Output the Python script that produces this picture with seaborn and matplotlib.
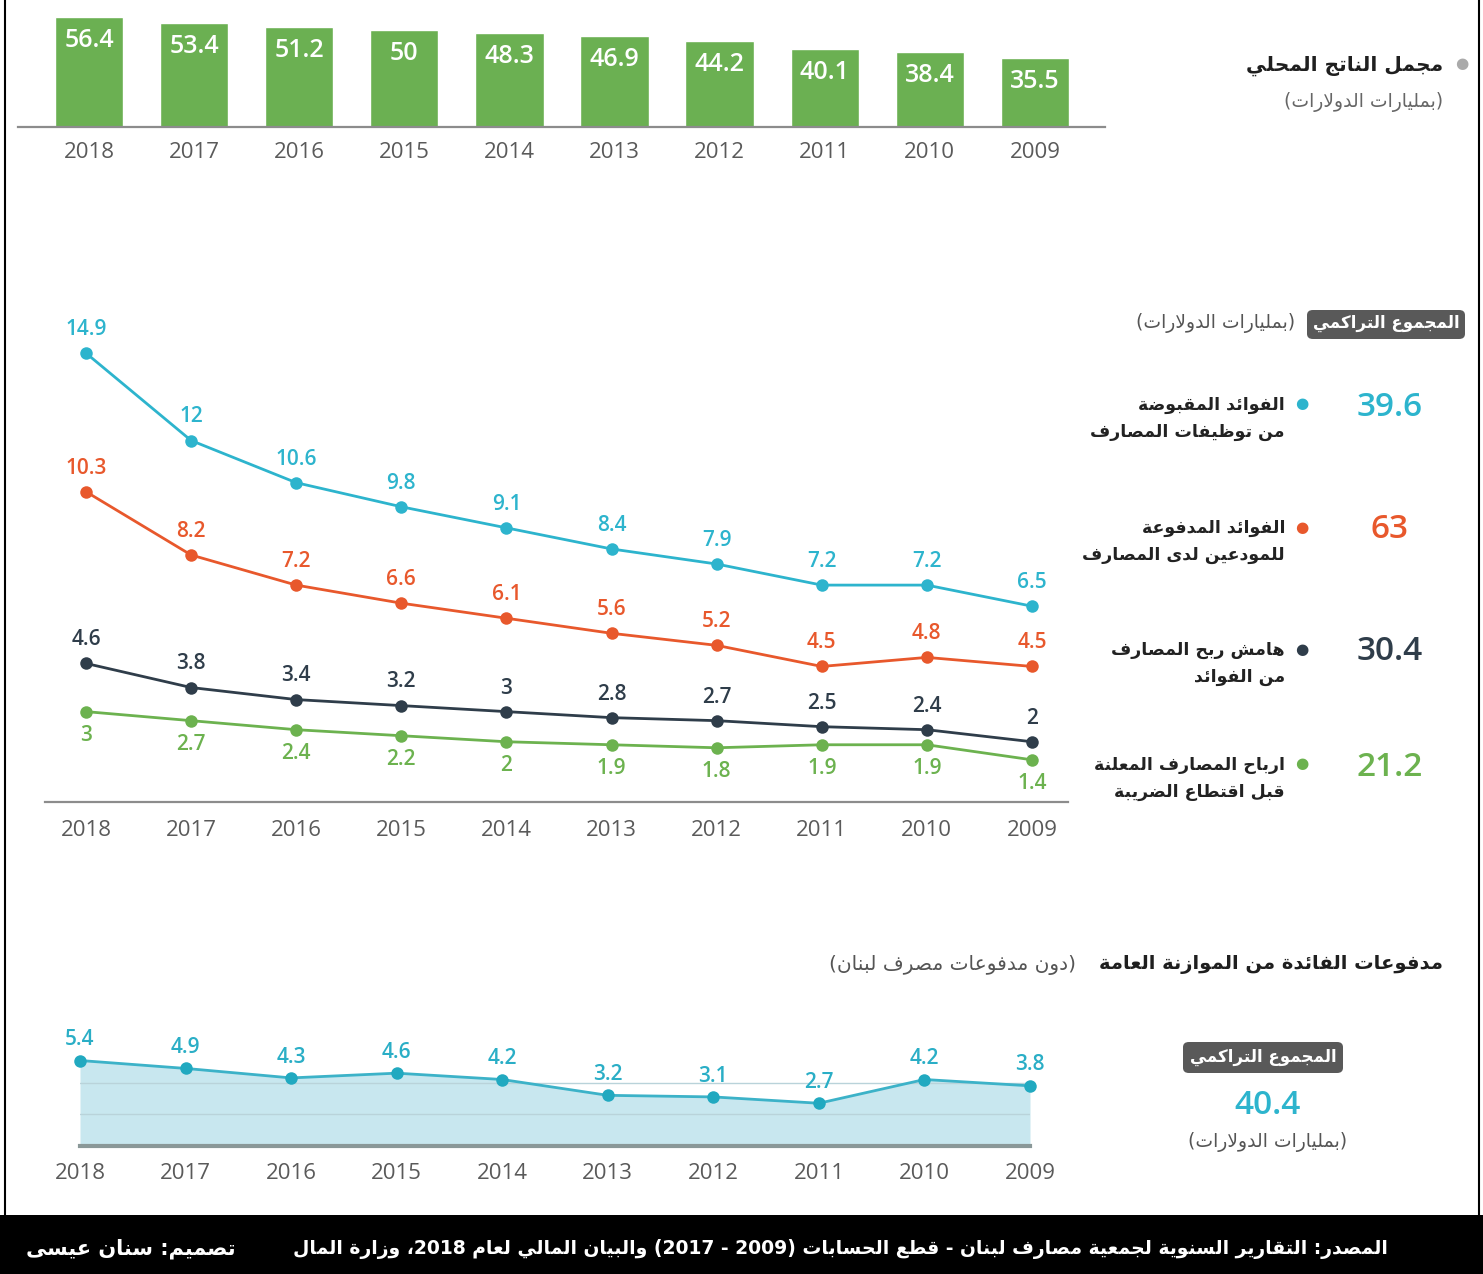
import re
import matplotlib
matplotlib.use("Agg")
import matplotlib.pyplot as plt
from matplotlib.patches import FancyBboxPatch, Rectangle
from matplotlib.lines import Line2D
import seaborn as sns
import pandas as pd
import numpy as np

# ---- data (left = 2018 ... right = 2009) ----
years = ['2018', '2017', '2016', '2015', '2014', '2013', '2012', '2011', '2010', '2009']
gdp = [56.4, 53.4, 51.2, 50, 48.3, 46.9, 44.2, 40.1, 38.4, 35.5]
interest_received = [14.9, 12, 10.6, 9.8, 9.1, 8.4, 7.9, 7.2, 7.2, 6.5]
interest_paid = [10.3, 8.2, 7.2, 6.6, 6.1, 5.6, 5.2, 4.5, 4.8, 4.5]
interest_margin = [4.6, 3.8, 3.4, 3.2, 3, 2.8, 2.7, 2.5, 2.4, 2]
bank_profits = [3, 2.7, 2.4, 2.2, 2, 1.9, 1.8, 1.9, 1.9, 1.4]
budget_interest = [5.4, 4.9, 4.3, 4.6, 4.2, 3.2, 3.1, 2.7, 4.2, 3.8]

series_names = [("الفوائد المقبوضة", "من توظيفات المصارف"),
                ("الفوائد المدفوعة", "للمودعين لدى المصارف"),
                ("هامش ربح المصارف", "من الفوائد"),
                ("ارباح المصارف المعلنة", "قبل اقتطاع الضريبة")]
series_totals = ['39.6', '63', '30.4', '21.2']
budget_total = '40.4'

gdp_title = "مجمل الناتج المحلي"
unit_text = "(بمليارات الدولارات)"
cum_text = "المجموع التراكمي"
budget_title = "مدفوعات الفائدة من الموازنة العامة"
budget_sub = "(دون مدفوعات مصرف لبنان)"
source_text = "المصدر: التقارير السنوية لجمعية مصارف لبنان - قطع الحسابات (2009 - 2017) والبيان المالي لعام 2018، وزارة المال"
credit_text = "تصميم: سنان عيسى"

# ---- colours ----
GREEN_BAR = "#6bb052"
CYAN = "#2db4cd"
ORANGE = "#e8582c"
DARK = "#2f3d4a"
GREEN = "#6cb24f"
YEAR_GREY = "#5a5a5a"

# ---- tiny arabic shaping + bidi (matplotlib has none) ----
AR_FORMS = {
    '\u0621': ('\uFE80', None, None, None),
    '\u0622': ('\uFE81', '\uFE82', None, None),
    '\u0623': ('\uFE83', '\uFE84', None, None),
    '\u0624': ('\uFE85', '\uFE86', None, None),
    '\u0625': ('\uFE87', '\uFE88', None, None),
    '\u0626': ('\uFE89', '\uFE8A', '\uFE8B', '\uFE8C'),
    '\u0627': ('\uFE8D', '\uFE8E', None, None),
    '\u0628': ('\uFE8F', '\uFE90', '\uFE91', '\uFE92'),
    '\u0629': ('\uFE93', '\uFE94', None, None),
    '\u062A': ('\uFE95', '\uFE96', '\uFE97', '\uFE98'),
    '\u062B': ('\uFE99', '\uFE9A', '\uFE9B', '\uFE9C'),
    '\u062C': ('\uFE9D', '\uFE9E', '\uFE9F', '\uFEA0'),
    '\u062D': ('\uFEA1', '\uFEA2', '\uFEA3', '\uFEA4'),
    '\u062E': ('\uFEA5', '\uFEA6', '\uFEA7', '\uFEA8'),
    '\u062F': ('\uFEA9', '\uFEAA', None, None),
    '\u0630': ('\uFEAB', '\uFEAC', None, None),
    '\u0631': ('\uFEAD', '\uFEAE', None, None),
    '\u0632': ('\uFEAF', '\uFEB0', None, None),
    '\u0633': ('\uFEB1', '\uFEB2', '\uFEB3', '\uFEB4'),
    '\u0634': ('\uFEB5', '\uFEB6', '\uFEB7', '\uFEB8'),
    '\u0635': ('\uFEB9', '\uFEBA', '\uFEBB', '\uFEBC'),
    '\u0636': ('\uFEBD', '\uFEBE', '\uFEBF', '\uFEC0'),
    '\u0637': ('\uFEC1', '\uFEC2', '\uFEC3', '\uFEC4'),
    '\u0638': ('\uFEC5', '\uFEC6', '\uFEC7', '\uFEC8'),
    '\u0639': ('\uFEC9', '\uFECA', '\uFECB', '\uFECC'),
    '\u063A': ('\uFECD', '\uFECE', '\uFECF', '\uFED0'),
    '\u0641': ('\uFED1', '\uFED2', '\uFED3', '\uFED4'),
    '\u0642': ('\uFED5', '\uFED6', '\uFED7', '\uFED8'),
    '\u0643': ('\uFED9', '\uFEDA', '\uFEDB', '\uFEDC'),
    '\u0644': ('\uFEDD', '\uFEDE', '\uFEDF', '\uFEE0'),
    '\u0645': ('\uFEE1', '\uFEE2', '\uFEE3', '\uFEE4'),
    '\u0646': ('\uFEE5', '\uFEE6', '\uFEE7', '\uFEE8'),
    '\u0647': ('\uFEE9', '\uFEEA', '\uFEEB', '\uFEEC'),
    '\u0648': ('\uFEED', '\uFEEE', None, None),
    '\u0649': ('\uFEEF', '\uFEF0', None, None),
    '\u064A': ('\uFEF1', '\uFEF2', '\uFEF3', '\uFEF4'),
}
LAM_ALEF = {'\u0622': ('\uFEF5', '\uFEF6'), '\u0623': ('\uFEF7', '\uFEF8'),
            '\u0625': ('\uFEF9', '\uFEFA'), '\u0627': ('\uFEFB', '\uFEFC')}
MIRROR = str.maketrans('()', ')(')


def shape(text):
    res = []
    prev_joins = False
    i = 0
    n = len(text)
    while i < n:
        c = text[i]
        if c not in AR_FORMS:
            res.append(c)
            prev_joins = False
            i += 1
            continue
        if c == '\u0644' and i + 1 < n and text[i + 1] in LAM_ALEF:
            iso, fin = LAM_ALEF[text[i + 1]]
            res.append(fin if prev_joins else iso)
            prev_joins = False
            i += 2
            continue
        f = AR_FORMS[c]
        nxt = text[i + 1] if i + 1 < n else None
        can_next = f[2] is not None and nxt in AR_FORMS and AR_FORMS[nxt][1] is not None
        if prev_joins and can_next:
            g = f[3]
        elif prev_joins:
            g = f[1]
        elif can_next:
            g = f[2]
        else:
            g = f[0]
        res.append(g)
        prev_joins = can_next
        i += 1
    return ''.join(res)


def ar(text):
    s = shape(text)
    runs = re.findall(r'[0-9]+(?:\.[0-9]+)*|[^0-9]+', s)
    out = []
    for r in reversed(runs):
        if r[0].isdigit():
            out.append(r)
        else:
            out.append(r[::-1].translate(MIRROR))
    return ''.join(out)


# ---- figure ----
sns.set_theme(style="white")
plt.rcParams['font.family'] = ['Open Sans', 'DejaVu Sans']
AR_FONT = ['DejaVu Sans']

W, H = 1483, 1274
fig = plt.figure(figsize=(W / 100, H / 100), dpi=100)
fig.patch.set_facecolor('white')


def px_axes(x0, y_top, x1, y_bot):
    return fig.add_axes([x0 / W, 1 - y_bot / H, (x1 - x0) / W, (y_bot - y_top) / H])


def ftext(x, y, s, **kw):
    return fig.text(x / W, 1 - y / H, s, **kw)


def year_axis(ax, pad):
    ax.set_xticks(range(len(years)))
    ax.set_xticklabels(years)
    ax.tick_params(axis='x', length=0, pad=pad, labelsize=16, labelcolor=YEAR_GREY)
    ax.set_yticks([])
    ax.set_xlabel('')
    ax.set_ylabel('')
    for sp in ['top', 'right', 'left']:
        ax.spines[sp].set_visible(False)


# top: GDP bars
ax1 = px_axes(18, 10, 1105, 127)
sns.barplot(x=years, y=gdp, order=years, color=GREEN_BAR, saturation=1, width=0.65, ax=ax1)
ax1.set_xlim(-0.676, 9.667)
ax1.set_ylim(0, 60)
year_axis(ax1, 11)
ax1.spines['bottom'].set_color('#8c8c8c')
ax1.spines['bottom'].set_linewidth(1.6)
for i, v in enumerate(gdp):
    ax1.annotate(f"{v:g}", xy=(i, v), xytext=(0, -17), textcoords='offset points',
                 ha='center', va='center', color='white', fontsize=18, fontweight='semibold')

ftext(1462, 64, '\u25CF', ha='center', va='center', color='#aaaaaa', fontsize=11)
ftext(1443, 66, ar(gdp_title), ha='right', va='center', color='#1f1f1f', fontsize=14.5,
      fontweight='bold', family=AR_FONT)
ftext(1443, 102, ar(unit_text), ha='right', va='center', color='#666666', fontsize=13.5, family=AR_FONT)

# middle: bank interest lines
ax2 = px_axes(45, 320, 1068, 802)
idx = np.arange(len(years))
line_series = [interest_received, interest_paid, interest_margin, bank_profits]
line_colors = [CYAN, ORANGE, DARK, GREEN]
label_side = [1, 1, 1, -1]
for vals, col, side in zip(line_series, line_colors, label_side):
    sns.lineplot(x=idx, y=vals, color=col, marker='o', markersize=9, markeredgewidth=0,
                 linewidth=2, ax=ax2, clip_on=False)
    for i, v in enumerate(vals):
        ax2.annotate(f"{v:g}", xy=(i, v), xytext=(0, 17 * side), textcoords='offset points',
                     ha='center', va='center', color=col, fontsize=15, fontweight='semibold')
ax2.set_xlim(-0.39, 9.343)
ax2.set_ylim(0, 16)
year_axis(ax2, 13)
ax2.spines['bottom'].set_color('#8c8c8c')
ax2.spines['bottom'].set_linewidth(1.6)

box = FancyBboxPatch((1307 / W, 1 - 339 / H), 158 / W, 29 / H,
                     boxstyle="round,pad=0,rounding_size=0.004", transform=fig.transFigure,
                     facecolor='#595959', edgecolor='none')
fig.patches.append(box)
ftext(1386, 323, ar(cum_text), ha='center', va='center', color='white', fontsize=12,
      fontweight='bold', family=AR_FONT)
ftext(1295, 323, ar(unit_text), ha='right', va='center', color='#555555', fontsize=13.5, family=AR_FONT)

entry_y = [405, 528, 650, 765]
for (l1, l2), tot, col, y in zip(series_names, series_totals, line_colors, entry_y):
    ftext(1302, y, '\u25CF', ha='center', va='center', color=col, fontsize=11)
    ftext(1285, y, ar(l1), ha='right', va='center', color='#222222', fontsize=12.5,
          fontweight='bold', family=AR_FONT)
    ftext(1285, y + 27, ar(l2), ha='right', va='center', color='#222222', fontsize=12.5,
          fontweight='bold', family=AR_FONT)
    ftext(1390, y + 2, tot, ha='center', va='center', color=col, fontsize=24, fontweight='semibold')

# bottom: budget interest area
ftext(1443, 965, ar(budget_title), ha='right', va='center', color='#1f1f1f', fontsize=14,
      fontweight='bold', family=AR_FONT)
ftext(1076, 965, ar(budget_sub), ha='right', va='center', color='#555555', fontsize=14.5, family=AR_FONT)

ax3 = px_axes(80, 1051, 1030, 1146)
ax3.fill_between(idx, budget_interest, 0, color='#c8e7ef', linewidth=0, zorder=1)
for g in [2, 4]:
    ax3.axhline(g, color='#b9d3da', linewidth=1, zorder=2)
sns.lineplot(x=idx, y=budget_interest, color='#3cb2c8', marker='o', markersize=9,
             markerfacecolor='#21a9c0', markeredgewidth=0, linewidth=2, ax=ax3, clip_on=False, zorder=3)
for i, v in enumerate(budget_interest):
    ax3.annotate(f"{v:g}", xy=(i, v), xytext=(0, 15), textcoords='offset points',
                 ha='center', va='center', color='#2aaec6', fontsize=15, fontweight='semibold')
ax3.set_xlim(0, 9)
ax3.set_ylim(0, 6)
year_axis(ax3, 12)
ax3.spines['bottom'].set_color('#8a9898')
ax3.spines['bottom'].set_linewidth(3)

box2 = FancyBboxPatch((1183 / W, 1 - 1073 / H), 160 / W, 31 / H,
                      boxstyle="round,pad=0,rounding_size=0.004", transform=fig.transFigure,
                      facecolor='#595959', edgecolor='none')
fig.patches.append(box2)
ftext(1263, 1057, ar(cum_text), ha='center', va='center', color='white', fontsize=12,
      fontweight='bold', family=AR_FONT)
ftext(1268, 1105, budget_total, ha='center', va='center', color=CYAN, fontsize=24, fontweight='semibold')
ftext(1268, 1142, ar(unit_text), ha='center', va='center', color='#555555', fontsize=13.5, family=AR_FONT)

# frame + footer band
fig.lines.append(Line2D([5 / W, 5 / W], [1 - 1215 / H, 1], transform=fig.transFigure, color='black', linewidth=1.5))
fig.lines.append(Line2D([1479 / W, 1479 / W], [1 - 1215 / H, 1], transform=fig.transFigure, color='black', linewidth=1.5))
fig.patches.append(Rectangle((0, 0), 1, 59 / H, transform=fig.transFigure, facecolor='black', edgecolor='none'))
ftext(1388, 1249, ar(source_text), ha='right', va='center', color='white', fontsize=13.5,
      fontweight='bold', family=AR_FONT)
ftext(235, 1249, ar(credit_text), ha='right', va='center', color='white', fontsize=15,
      fontweight='bold', family=AR_FONT)

fig.savefig("out.png", dpi=100, facecolor='white')
